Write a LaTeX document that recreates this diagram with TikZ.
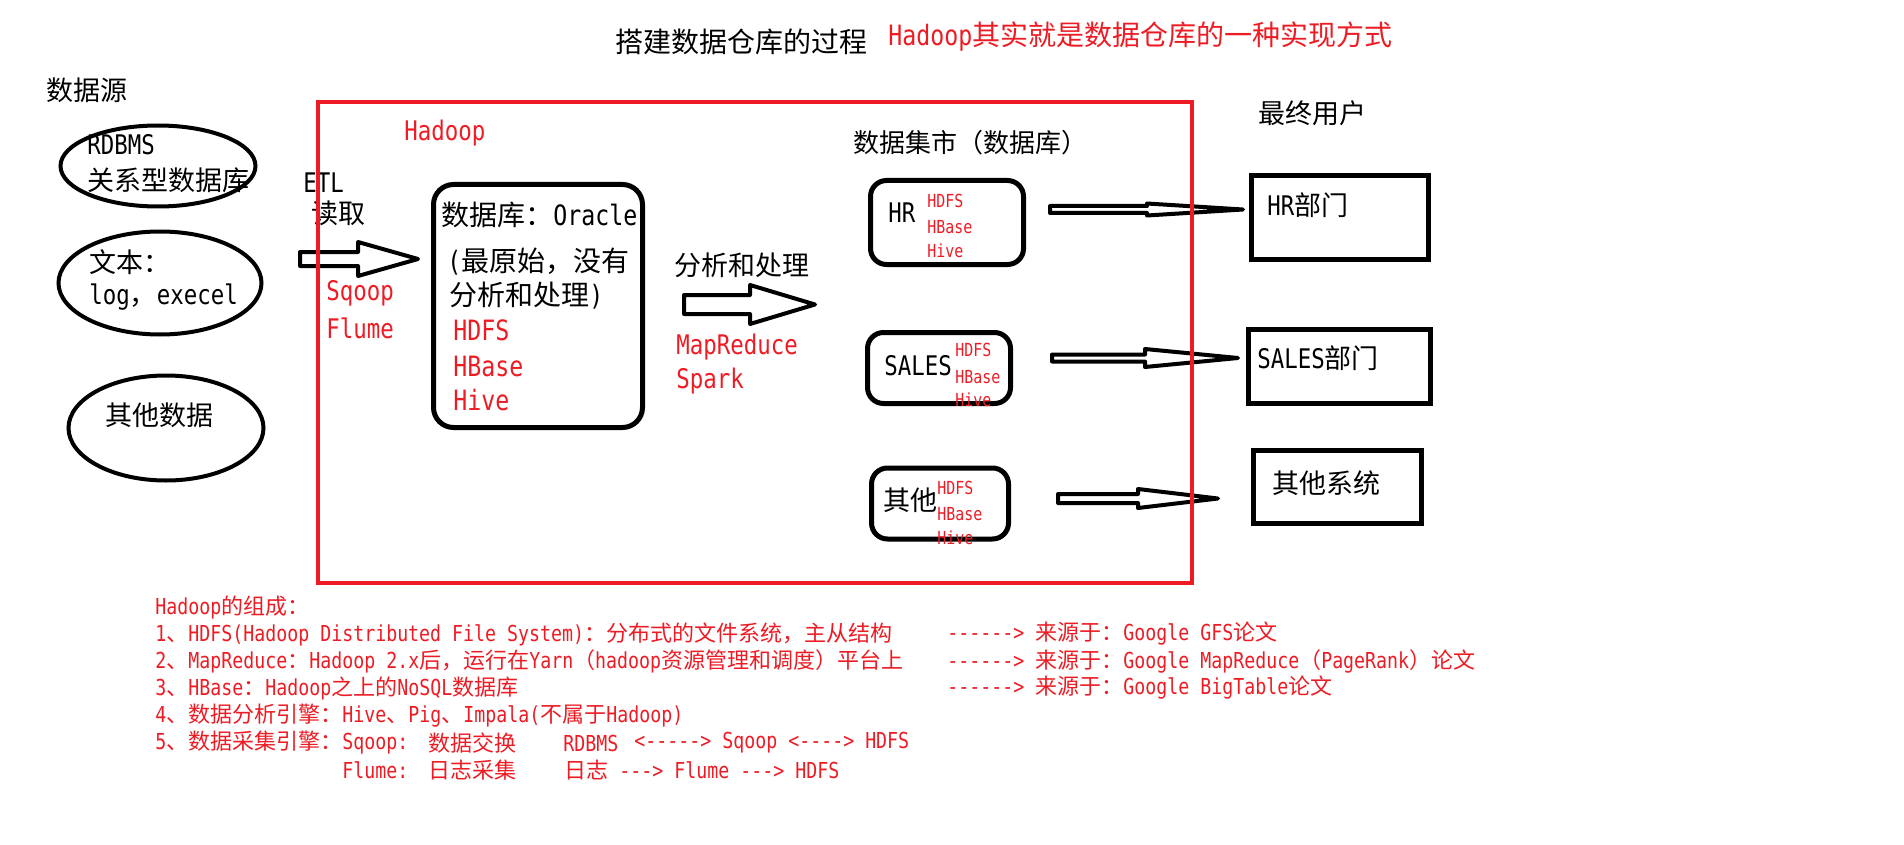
\documentclass[tikz,border=0pt]{standalone}
\usepackage{fontspec}
\setmainfont{DejaVu Sans Mono}[FakeStretch=0.83, Ligatures=TeXOff]
\newfontfamily\cjkfont{Noto Sans CJK SC}[Ligatures=TeXOff]
\usepackage{xcolor}
\usetikzlibrary{shapes.geometric,calc}
\definecolor{paintred}{RGB}{237,28,36}

% Chinese characters and full-width punctuation switch to the CJK font
\XeTeXinterchartokenstate=1
\newXeTeXintercharclass\cjkclass
\newcount\cjkcode
\cjkcode="3000
\loop
  \XeTeXcharclass\cjkcode=\cjkclass
  \ifnum\cjkcode<"9FFF \advance\cjkcode by 1
\repeat
\cjkcode="FF00
\loop
  \XeTeXcharclass\cjkcode=\cjkclass
  \ifnum\cjkcode<"FFEF \advance\cjkcode by 1
\repeat
\XeTeXinterchartoks 0 \cjkclass = {\begingroup\cjkfont}
\XeTeXinterchartoks 4095 \cjkclass = {\begingroup\cjkfont}
\XeTeXinterchartoks \cjkclass 0 = {\endgroup}
\XeTeXinterchartoks \cjkclass 4095 = {\endgroup}

% hollow block arrow: tail, tip, shaft half height, head half height, head length
\newcommand{\fatarrow}[5]{%
  \draw[fatline] ($(#1)+(0,-#3)$) -- ($(#2)+(-#5,-#3)$) -- ($(#2)+(-#5,-#4)$) -- (#2)
    -- ($(#2)+(-#5,#4)$) -- ($(#2)+(-#5,#3)$) -- ($(#1)+(0,#3)$) -- cycle;}

\begin{document}
\begin{tikzpicture}[x=0.5pt, y=-0.5pt,
  lbl/.style={anchor=west, inner sep=0pt, font=\fontsize{13.5pt}{16pt}\selectfont},
  redlbl/.style={lbl, text=paintred},
  redsmall/.style={anchor=west, inner sep=0pt, text=paintred, font=\fontsize{9pt}{10pt}\selectfont},
  notetext/.style={anchor=west, inner sep=0pt, text=paintred, font=\fontsize{11pt}{13pt}\selectfont},
  source/.style={draw, ellipse, line width=2pt, inner sep=0pt},
  store/.style={draw, rounded corners=8pt, line width=2.5pt, inner sep=0pt},
  dept/.style={draw, line width=2.5pt, inner sep=0pt},
  fatline/.style={line width=2pt, line join=round}]

  \useasboundingbox (0,0) rectangle (1904,845);

  % title
  \node[lbl, font=\fontsize{14pt}{16pt}\selectfont] (title) at (615,42) {搭建数据仓库的过程};
  \node[redlbl, font=\fontsize{14pt}{16pt}\selectfont] (idea) at (888,37) {Hadoop其实就是数据仓库的一种实现方式};

  % data sources
  \node[lbl] (srchead) at (46,90) {数据源};
  \node[source, minimum width=97.5pt, minimum height=40.5pt] (rdbms) at (158,166) {};
  \node[lbl] (rdbmsa) at (87,145) {RDBMS};
  \node[lbl] (rdbmsb) at (87,180) {关系型数据库};
  \node[source, minimum width=101.5pt, minimum height=51.5pt] (textsrc) at (160,283) {};
  \node[lbl] (texta) at (89,262) {文本：};
  \node[lbl] (textb) at (89,297) {log，execel};
  \node[source, minimum width=97.5pt, minimum height=52.5pt] (othersrc) at (166,428) {};
  \node[lbl] (otherlbl) at (105,415) {其他数据};

  % ETL
  \node[lbl] (etl) at (303,183) {ETL};
  \node[lbl] (read) at (311,213) {读取};
  \coordinate (etl-tail) at (300,259);
  \coordinate (etl-tip) at (418,259);
  \fatarrow{etl-tail}{etl-tip}{7}{17}{60}
  \node[redlbl] (sqoop) at (326,293) {Sqoop};
  \node[redlbl] (flume) at (326,328) {Flume};

  % raw database
  \node[redlbl] (hadooplbl) at (404,133) {Hadoop};
  \node[store, rounded corners=10pt, minimum width=104.5pt, minimum height=121.5pt] (oracle) at (538,306) {};
  \node[lbl, font=\fontsize{14pt}{16pt}\selectfont] (oraclea) at (441,215) {数据库：Oracle};
  \node[lbl, font=\fontsize{14pt}{16pt}\selectfont] (oracleb) at (447,262) {(最原始，没有};
  \node[lbl, font=\fontsize{14pt}{16pt}\selectfont] (oraclec) at (449,296) {分析和处理)};
  \node[redlbl, font=\fontsize{14pt}{16pt}\selectfont] (orahdfs) at (453,330) {HDFS};
  \node[redlbl, font=\fontsize{14pt}{16pt}\selectfont] (orahbase) at (453,366) {HBase};
  \node[redlbl, font=\fontsize{14pt}{16pt}\selectfont] (orahive) at (453,400) {Hive};

  % processing
  \node[lbl] (proc) at (674,265) {分析和处理};
  \coordinate (proc-tail) at (684,304.5);
  \coordinate (proc-tip) at (815,304.5);
  \fatarrow{proc-tail}{proc-tip}{9.5}{19.5}{65}
  \node[redlbl] (mr) at (676,347) {MapReduce};
  \node[redlbl] (spark) at (676,381) {Spark};

  % data marts
  \node[lbl, font=\fontsize{13pt}{16pt}\selectfont] (marthead) at (853,143) {数据集市（数据库）};
  \node[store, minimum width=76.5pt, minimum height=42pt] (hrmart) at (947,222.5) {};
  \node[lbl] (hrlbl) at (888,213) {HR};
  \node[redsmall] (hrhdfs) at (927,201) {HDFS};
  \node[redsmall] (hrhbase) at (927,227) {HBase};
  \node[redsmall] (hrhive) at (927,251) {Hive};
  \node[store, minimum width=71.5pt, minimum height=35.5pt] (salesmart) at (939,368) {};
  \node[lbl] (saleslbl) at (884,366) {SALES};
  \node[redsmall] (saleshdfs) at (955,350) {HDFS};
  \node[redsmall] (saleshbase) at (955,377) {HBase};
  \node[redsmall] (saleshive) at (955,400) {Hive};
  \node[store, minimum width=68.5pt, minimum height=35.5pt] (othermart) at (940,503.5) {};
  \node[lbl] (othermlbl) at (883,500) {其他};
  \node[redsmall] (otherhdfs) at (937,488) {HDFS};
  \node[redsmall] (otherhbase) at (937,514) {HBase};
  \node[redsmall] (otherhive) at (937,538) {Hive};

  % to end users
  \coordinate (hr-tail) at (1050,209.5);
  \coordinate (hr-tip) at (1243,209.5);
  \fatarrow{hr-tail}{hr-tip}{3.5}{6}{96}
  \coordinate (sales-tail) at (1052,358);
  \coordinate (sales-tip) at (1238,358);
  \fatarrow{sales-tail}{sales-tip}{3.5}{9}{93}
  \coordinate (other-tail) at (1058,498.5);
  \coordinate (other-tip) at (1218,498.5);
  \fatarrow{other-tail}{other-tip}{4.5}{9.5}{80}

  % end users
  \node[lbl] (userhead) at (1258,113) {最终用户};
  \node[dept, minimum width=88.5pt, minimum height=42pt] (hrdept) at (1340,217.5) {};
  \node[lbl] (hrdeptlbl) at (1267,205) {HR部门};
  \node[dept, minimum width=91pt, minimum height=37pt] (salesdept) at (1339.5,366.5) {};
  \node[lbl] (salesdeptlbl) at (1257,358) {SALES部门};
  \node[dept, minimum width=84pt, minimum height=36.5pt] (othersys) at (1337.5,487) {};
  \node[lbl] (othersyslbl) at (1272,483) {其他系统};

  % hadoop frame, drawn over the arrows
  \node[draw=paintred, line width=2pt, inner sep=0pt, minimum width=437pt, minimum height=240.5pt] (hadoop) at (755,342.5) {};

  % notes
  \node[notetext] (n0) at (155,607) {Hadoop的组成：};
  \node[notetext] (n1) at (155,634) {1、HDFS(Hadoop Distributed File System)：分布式的文件系统，主从结构};
  \node[notetext] (n2) at (155,661) {2、MapReduce：Hadoop 2.x后，运行在Yarn（hadoop资源管理和调度）平台上};
  \node[notetext] (n3) at (155,688) {3、HBase：Hadoop之上的NoSQL数据库};
  \node[notetext] (n4) at (155,716) {4、数据分析引擎：Hive、Pig、Impala(不属于Hadoop)};
  \node[notetext] (n5) at (155,743) {5、数据采集引擎：Sqoop:};
  \node[notetext] (n5a) at (428,743) {数据交换};
  \node[notetext] (n5b) at (563,743) {RDBMS};
  \node[notetext] (n5c) at (634,743) {<-----> Sqoop <----> HDFS};
  \node[notetext] (n6) at (342,770) {Flume:};
  \node[notetext] (n6a) at (428,770) {日志采集};
  \node[notetext] (n6b) at (564,770) {日志 ---> Flume ---> HDFS};
  \node[notetext] (r1) at (947,634) {------> 来源于：Google GFS论文};
  \node[notetext] (r2) at (947,661) {------> 来源于：Google MapReduce（PageRank）论文};
  \node[notetext] (r3) at (947,688) {------> 来源于：Google BigTable论文};
\end{tikzpicture}
\end{document}
